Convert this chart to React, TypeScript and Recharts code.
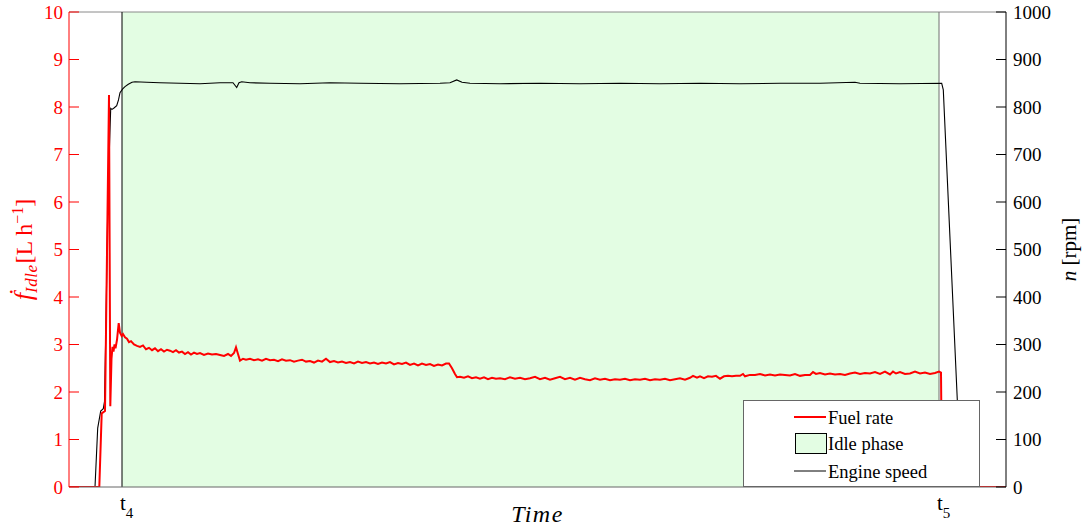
import React from 'react';
import {
  ComposedChart,
  Line,
  XAxis,
  YAxis,
  ReferenceArea,
  ReferenceLine,
  Legend,
} from 'recharts';

const FONT = '"Liberation Serif", "Times New Roman", Times, serif';
const RED = '#ff0000';
const GREEN = '#e3fde3';

// Time (arbitrary units from the start of the record)
const phaseStart = 53; // t4
const phaseEnd = 870; // t5
const timeDomain = [0, 937];
const timeTicks = [phaseStart, phaseEnd];
const timeTickSubs = ['4', '5'];

const fuelTime = [
  0, 30.3, 32.7, 36, 40, 41.3, 42.5, 43.5, 44.5, 45.5,
  46.5, 48, 49.7, 51, 52.7, 54, 56, 58, 60, 62,
  65, 68, 71, 74, 77, 80, 83, 86, 89, 92,
  95, 98, 101, 104, 107, 110, 113, 116, 119, 122,
  125, 128, 131, 135, 139, 143, 147, 151, 155, 159,
  162, 165, 167, 169, 171, 174, 177, 181, 185, 189,
  193, 197, 201, 205, 209, 213, 217, 221, 225, 229,
  233, 237, 241, 245, 249, 253, 257, 261, 265, 269,
  273, 277, 281, 285, 289, 293, 297, 301, 305, 309,
  313, 317, 321, 325, 329, 333, 337, 341, 345, 349,
  353, 357, 361, 365, 369, 373, 377, 380, 383, 386,
  388, 391, 395, 399, 403, 407, 411, 415, 419, 423,
  427, 431, 436, 441, 446, 451, 456, 461, 466, 471,
  476, 481, 486, 491, 496, 501, 506, 511, 516, 521,
  526, 531, 536, 541, 546, 551, 556, 561, 566, 571,
  576, 581, 586, 591, 596, 601, 606, 611, 616, 621,
  624, 628, 631, 635, 639, 643, 647, 651, 655, 659,
  663, 667, 671, 674, 676, 681, 686, 691, 696, 701,
  706, 711, 716, 721, 726, 731, 736, 741, 744, 747,
  751, 756, 761, 766, 771, 776, 781, 786, 791, 796,
  801, 806, 811, 816, 821, 824, 827, 831, 836, 841,
  846, 851, 856, 861, 866, 870, 872, 873, 937,
];

const fuelRate = [
  0, 0, 1.55, 1.6, 8.25, 1.7, 2.7, 2.95, 2.85, 3.0,
  2.92, 3.1, 3.45, 3.25, 3.18, 3.22, 3.15, 3.12, 3.05, 3.07,
  3.0, 2.97, 2.95, 2.98, 2.9, 2.93, 2.88, 2.92, 2.86, 2.9,
  2.85, 2.89, 2.87, 2.84, 2.88, 2.83, 2.85, 2.8, 2.84, 2.79,
  2.83, 2.8, 2.82, 2.78, 2.81, 2.79, 2.8, 2.78, 2.76, 2.8,
  2.76, 2.82, 2.94, 2.8, 2.66, 2.7, 2.68, 2.7, 2.67, 2.69,
  2.66, 2.7, 2.67, 2.68, 2.65, 2.69, 2.66, 2.67, 2.64, 2.66,
  2.68, 2.64, 2.65, 2.62, 2.66, 2.64, 2.7, 2.63, 2.65, 2.62,
  2.64, 2.61, 2.63, 2.6, 2.64, 2.61, 2.63, 2.6, 2.62, 2.59,
  2.62, 2.6, 2.63, 2.58, 2.61, 2.59, 2.62, 2.57, 2.6, 2.56,
  2.6, 2.57, 2.59, 2.55, 2.58, 2.56, 2.6, 2.6, 2.5, 2.38,
  2.31, 2.32, 2.3, 2.33, 2.29, 2.31, 2.28, 2.31, 2.27, 2.3,
  2.28, 2.29, 2.27, 2.31, 2.28, 2.3, 2.27, 2.29, 2.32, 2.27,
  2.3, 2.26, 2.29, 2.32, 2.27, 2.3, 2.26, 2.3, 2.27, 2.25,
  2.29, 2.26, 2.28, 2.25, 2.27, 2.26, 2.28, 2.25, 2.27, 2.26,
  2.28, 2.25, 2.27, 2.26, 2.28, 2.25, 2.27, 2.29, 2.26, 2.3,
  2.34, 2.3, 2.33, 2.29, 2.33, 2.32, 2.34, 2.28, 2.33, 2.34,
  2.33, 2.34, 2.34, 2.38, 2.33, 2.36, 2.36, 2.38, 2.35, 2.37,
  2.35, 2.37, 2.36, 2.35, 2.38, 2.34, 2.36, 2.36, 2.42, 2.38,
  2.4, 2.37, 2.39, 2.37, 2.38, 2.36, 2.39, 2.41, 2.38, 2.4,
  2.39, 2.42, 2.38, 2.43, 2.37, 2.43, 2.39, 2.42, 2.38, 2.39,
  2.43, 2.39, 2.41, 2.38, 2.4, 2.43, 2.41, 0, 0,
];

const speedTime = [
  0, 26, 28.7, 31.7, 34.3, 35.5, 37, 39, 41.7, 43,
  45, 47.7, 49.5, 51, 53.7, 56, 59.3, 63, 66, 77.7,
  91, 111, 131, 151, 161, 164, 167.7, 170, 172.7, 181,
  201, 231, 261, 291, 331, 371, 381, 387.7, 393, 401,
  431, 471, 511, 551, 591, 631, 671, 711, 751, 786,
  791, 831, 872.7, 874.3, 888.3, 892, 937,
];

const engineSpeed = [
  0, 0, 124, 160, 165, 180, 350, 620, 797, 795,
  798, 803, 815, 830, 838, 843, 848, 852, 853, 852,
  851, 850, 849, 851, 851, 851, 841, 851, 853, 851,
  850, 849, 851, 850, 849, 850, 851, 857, 852, 850,
  849, 850, 849, 850, 849, 850, 849, 850, 850, 852,
  850, 849, 850, 836, 183, 0, 0,
];

const fuelTicks = [0, 1, 2, 3, 4, 5, 6, 7, 8, 9, 10];
const speedTicks = [0, 100, 200, 300, 400, 500, 600, 700, 800, 900, 1000];
const legendLabels = ['Fuel rate', 'Idle phase', 'Engine speed'];

const fuelData = fuelTime.map((t, i) => ({ t, fuel: fuelRate[i] }));
const speedData = speedTime.map((t, i) => ({ t, speed: engineSpeed[i] }));

const LeftTick = (props: any) => {
  const { x, y, payload } = props;
  return (
    <g>
      <line x1={x + 6} x2={x + 16} y1={y} y2={y} stroke={RED} strokeWidth={1} />
      <text x={x} y={y + 6.5} textAnchor="end" fill={RED} fontSize={19} fontFamily={FONT}>
        {payload.value}
      </text>
    </g>
  );
};

const RightTick = (props: any) => {
  const { x, y, payload } = props;
  return (
    <g>
      <line x1={x - 7} x2={x - 17} y1={y} y2={y} stroke="#000" strokeWidth={1} />
      <text x={x} y={y + 6.5} textAnchor="start" fill="#000" fontSize={19} fontFamily={FONT}>
        {payload.value}
      </text>
    </g>
  );
};

const TimeTick = (props: any) => {
  const { x, y, payload, index } = props;
  const sub = timeTickSubs[index] ?? (payload.value === phaseStart ? '4' : '5');
  return (
    <text x={x - 2} y={y + 23} textAnchor="start" fill="#000" fontSize={21} fontFamily={FONT}>
      <tspan>t</tspan>
      <tspan fontSize={15} dy={8}>{sub}</tspan>
    </text>
  );
};

const TimeLabel = (props: any) => {
  const vb = props.viewBox || {};
  const cx = vb.x + vb.width / 2;
  const by = vb.y + 35;
  return (
    <text x={cx} y={by} textAnchor="middle" fill="#000" fontSize={24} fontStyle="italic" fontFamily={FONT} letterSpacing={1.5}>
      Time
    </text>
  );
};

const FuelAxisLabel = (props: any) => {
  const vb = props.viewBox || {};
  const cx = vb.x + 25;
  const cy = vb.y + vb.height / 2;
  return (
    <text
      x={cx}
      y={cy + 7}
      transform={`rotate(-90, ${cx}, ${cy})`}
      textAnchor="middle"
      fill={RED}
      fontSize={24}
      fontFamily={FONT}
    >
      <tspan fontStyle="italic" fontSize={26}>ḟ</tspan>
      <tspan fontStyle="italic" fontSize={17} dy={5} letterSpacing={0.5}>Idle</tspan>
      <tspan dy={-5} dx={1}>[L h</tspan>
      <tspan fontSize={16} dy={-9}>−1</tspan>
      <tspan dy={9}>]</tspan>
    </text>
  );
};

const SpeedAxisLabel = (props: any) => {
  const vb = props.viewBox || {};
  const cx = vb.x + 64;
  const cy = vb.y + vb.height / 2;
  return (
    <text
      x={cx}
      y={cy + 6}
      transform={`rotate(-90, ${cx}, ${cy})`}
      textAnchor="middle"
      fill="#000"
      fontSize={21}
      fontFamily={FONT}
    >
      <tspan fontStyle="italic">n</tspan>
      <tspan> [rpm]</tspan>
    </text>
  );
};

const LegendBox = () => (
  <svg width={238} height={88} style={{ display: 'block' }}>
    <rect x={0.5} y={0.5} width={236} height={86} fill="#fff" stroke="#666" strokeWidth={1} />
    <line x1={51} x2={83} y1={17} y2={17} stroke={RED} strokeWidth={2} />
    <text x={85} y={23.5} fontSize={18.5} fontFamily={FONT} fill="#000">{legendLabels[0]}</text>
    <rect x={52.5} y={33.5} width={31} height={20} fill={GREEN} stroke="#000" strokeWidth={1} />
    <text x={85} y={50} fontSize={18.5} fontFamily={FONT} fill="#000">{legendLabels[1]}</text>
    <line x1={51} x2={83} y1={71} y2={71} stroke="#000" strokeWidth={1} />
    <text x={85} y={77.5} fontSize={18.5} fontFamily={FONT} fill="#000">{legendLabels[2]}</text>
  </svg>
);

export default function App() {
  return (
    <div style={{ position: 'absolute', left: 0, top: 0, width: 1089, height: 530, background: '#fff' }}>
      <ComposedChart
        width={1089}
        height={530}
        margin={{ top: 12, right: 0, bottom: 0, left: 0 }}
      >
        <XAxis
          dataKey="t"
          type="number"
          domain={timeDomain}
          ticks={timeTicks}
          interval={0}
          allowDataOverflow
          height={43}
          tickSize={0}
          tickMargin={0}
          tick={<TimeTick />}
          axisLine={{ stroke: '#666', strokeWidth: 1 }}
          label={{ content: <TimeLabel /> } as any}
        />
        <YAxis
          yAxisId="left"
          orientation="left"
          domain={[0, 10]}
          ticks={fuelTicks}
          interval={0}
          allowDataOverflow
          width={69}
          tickSize={0}
          tickMargin={6}
          tick={<LeftTick />}
          axisLine={{ stroke: RED, strokeWidth: 1 }}
          label={{ content: <FuelAxisLabel /> } as any}
        />
        <YAxis
          yAxisId="right"
          orientation="right"
          domain={[0, 1000]}
          ticks={speedTicks}
          interval={0}
          allowDataOverflow
          width={83}
          tickSize={0}
          tickMargin={7}
          tick={<RightTick />}
          axisLine={{ stroke: '#000', strokeWidth: 1 }}
          label={{ content: <SpeedAxisLabel /> } as any}
        />
        <ReferenceArea
          yAxisId="left"
          x1={phaseStart}
          x2={phaseEnd}
          y1={0}
          y2={10}
          fill={GREEN}
          fillOpacity={1}
          stroke="none"
        />
        <ReferenceLine yAxisId="left" y={10} stroke="#8a8a8a" strokeWidth={1} />
        <ReferenceLine yAxisId="left" x={phaseStart} stroke="#000" strokeWidth={1} />
        <ReferenceLine yAxisId="left" x={phaseEnd} stroke="#707070" strokeWidth={1} />
        <Line
          yAxisId="right"
          data={speedData}
          dataKey="speed"
          name="Engine speed"
          type="linear"
          stroke="#000"
          strokeWidth={1.1}
          dot={false}
          activeDot={false}
          isAnimationActive={false}
        />
        <Line
          yAxisId="left"
          data={fuelData}
          dataKey="fuel"
          name="Fuel rate"
          type="linear"
          stroke={RED}
          strokeWidth={2}
          dot={false}
          activeDot={false}
          isAnimationActive={false}
        />
        <Legend
          layout="horizontal"
          verticalAlign="middle"
          align="center"
          content={<LegendBox />}
          wrapperStyle={{ position: 'absolute', left: 743, top: 400, width: 238, height: 88 }}
        />
      </ComposedChart>
    </div>
  );
}
